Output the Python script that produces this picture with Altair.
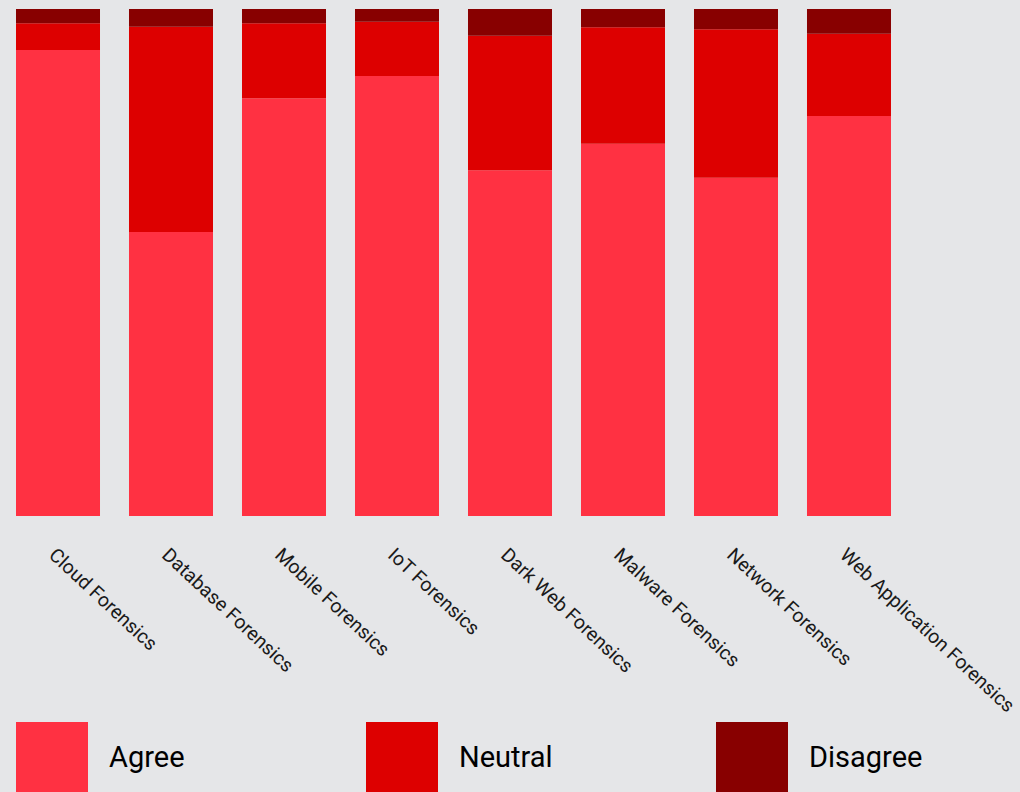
import altair as alt
import pandas as pd

categories = ["Cloud Forensics", "Database Forensics", "Mobile Forensics", "IoT Forensics",
              "Dark Web Forensics", "Malware Forensics", "Network Forensics", "Web Application Forensics"]
agree = [91.9, 56.0, 82.4, 86.8, 68.2, 73.4, 66.7, 78.9]
neutral = [5.3, 40.5, 14.8, 10.7, 26.5, 23.0, 29.3, 16.2]
disagree = [2.8, 3.5, 2.8, 2.5, 5.3, 3.6, 4.0, 4.9]

series = ["Agree", "Neutral", "Disagree"]
colors = ["#FF3142", "#DD0000", "#880000"]

rows = []
for i, c in enumerate(categories):
    for k, (s, vals) in enumerate(zip(series, [agree, neutral, disagree])):
        rows.append({"category": c, "response": s, "value": vals[i], "order": k})
df = pd.DataFrame(rows)

FONT = "Roboto, sans-serif"

chart = alt.Chart(df).mark_bar(opacity=1).encode(
    x=alt.X("category:N", sort=categories, title=None,
            scale=alt.Scale(paddingInner=0.2566, paddingOuter=0.1416),
            axis=alt.Axis(labelAngle=43, labelAlign="left", labelBaseline="top",
                          labelPadding=29, labelOffset=0, domain=False, ticks=False,
                          labelFont=FONT, labelFontSize=19.5, labelColor="#1a1a1a",
                          labelLimit=0)),
    y=alt.Y("value:Q", stack="normalize", axis=None),
    color=alt.Color("response:N", sort=series,
                    scale=alt.Scale(domain=series, range=colors),
                    legend=alt.Legend(title=None, orient="none", legendX=16, legendY=713,
                                      direction="horizontal", columns=3, gridAlign="all",
                                      columnPadding=143, symbolType="square",
                                      symbolSize=5184, symbolStrokeWidth=0,
                                      symbolOpacity=1, labelOffset=21,
                                      labelFont=FONT, labelFontSize=29,
                                      labelColor="#000000", padding=0, labelLimit=0)),
    order=alt.Order("order:Q", sort="ascending"),
).properties(
    width=907, height=507,
    background="#E5E6E8",
    padding={"left": 0, "top": 9, "right": 113, "bottom": 276},
    autosize=alt.AutoSizeParams(type="none"),
).configure_view(stroke=None)

chart.save("out.html", embed_options={"renderer": "svg", "actions": False})
